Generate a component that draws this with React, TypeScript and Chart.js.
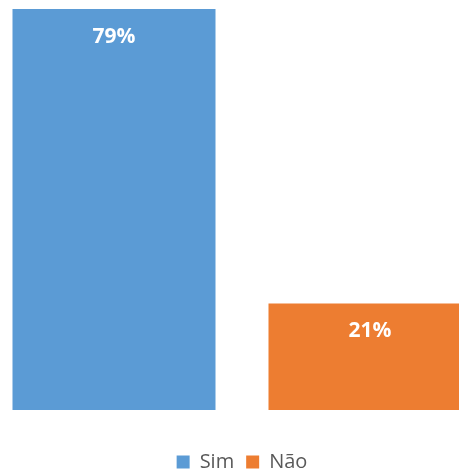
import React, { useEffect, useRef } from "react";
import { Chart, registerables } from "chart.js";

Chart.register(...registerables);

const categories = [""];
const seriesNames = ["Sim", "Não"];
const simValues = [79];
const naoValues = [21];
const seriesColors = ["#5B9BD5", "#ED7D31"];

const dataLabelPlugin = {
  id: "dataLabels",
  afterDatasetsDraw(chart: any) {
    const ctx = chart.ctx;
    ctx.save();
    ctx.font = "bold 21px 'Open Sans'";
    ctx.fillStyle = "#FFFFFF";
    ctx.textAlign = "center";
    ctx.textBaseline = "middle";
    chart.data.datasets.forEach((ds: any, i: number) => {
      const meta = chart.getDatasetMeta(i);
      meta.data.forEach((bar: any, j: number) => {
        ctx.fillText(ds.data[j] + "%", bar.x, bar.y + 28);
      });
    });
    ctx.restore();
  },
};

export default function App() {
  const ref = useRef<HTMLCanvasElement>(null);
  useEffect(() => {
    const chart = new Chart(ref.current!, {
      type: "bar",
      data: {
        labels: categories,
        datasets: [
          { label: seriesNames[0], data: simValues, backgroundColor: seriesColors[0], borderWidth: 0 },
          { label: seriesNames[1], data: naoValues, backgroundColor: seriesColors[1], borderWidth: 0 },
        ],
      },
      options: {
        animation: false,
        responsive: false,
        maintainAspectRatio: false,
        layout: { padding: { top: 4, left: 0, right: 0, bottom: 0 } },
        datasets: { bar: { categoryPercentage: 1, barPercentage: 0.793 } },
        scales: {
          x: {
            display: true,
            grid: { display: false },
            border: { display: false },
            ticks: { display: false },
            afterFit: (scale: any) => {
              scale.height = 30;
            },
          },
          y: { display: false, min: 0, max: 80 },
        },
        plugins: {
          legend: {
            position: "bottom",
            labels: {
              boxWidth: 13,
              boxHeight: 13,
              padding: 12,
              color: "#595959",
              font: { family: "'Open Sans'", size: 20 },
            },
          },
          tooltip: { enabled: false },
        },
      },
      plugins: [dataLabelPlugin],
    });
    return () => chart.destroy();
  }, []);
  return (
    <div
      style={{
        position: "fixed",
        left: 0,
        top: 0,
        width: 459,
        height: 473,
        overflow: "hidden",
        background: "#fff",
      }}
    >
      <canvas
        ref={ref}
        width={512}
        height={482}
        style={{ position: "absolute", left: -14.5, top: 0, width: 512, height: 482 }}
      />
    </div>
  );
}
